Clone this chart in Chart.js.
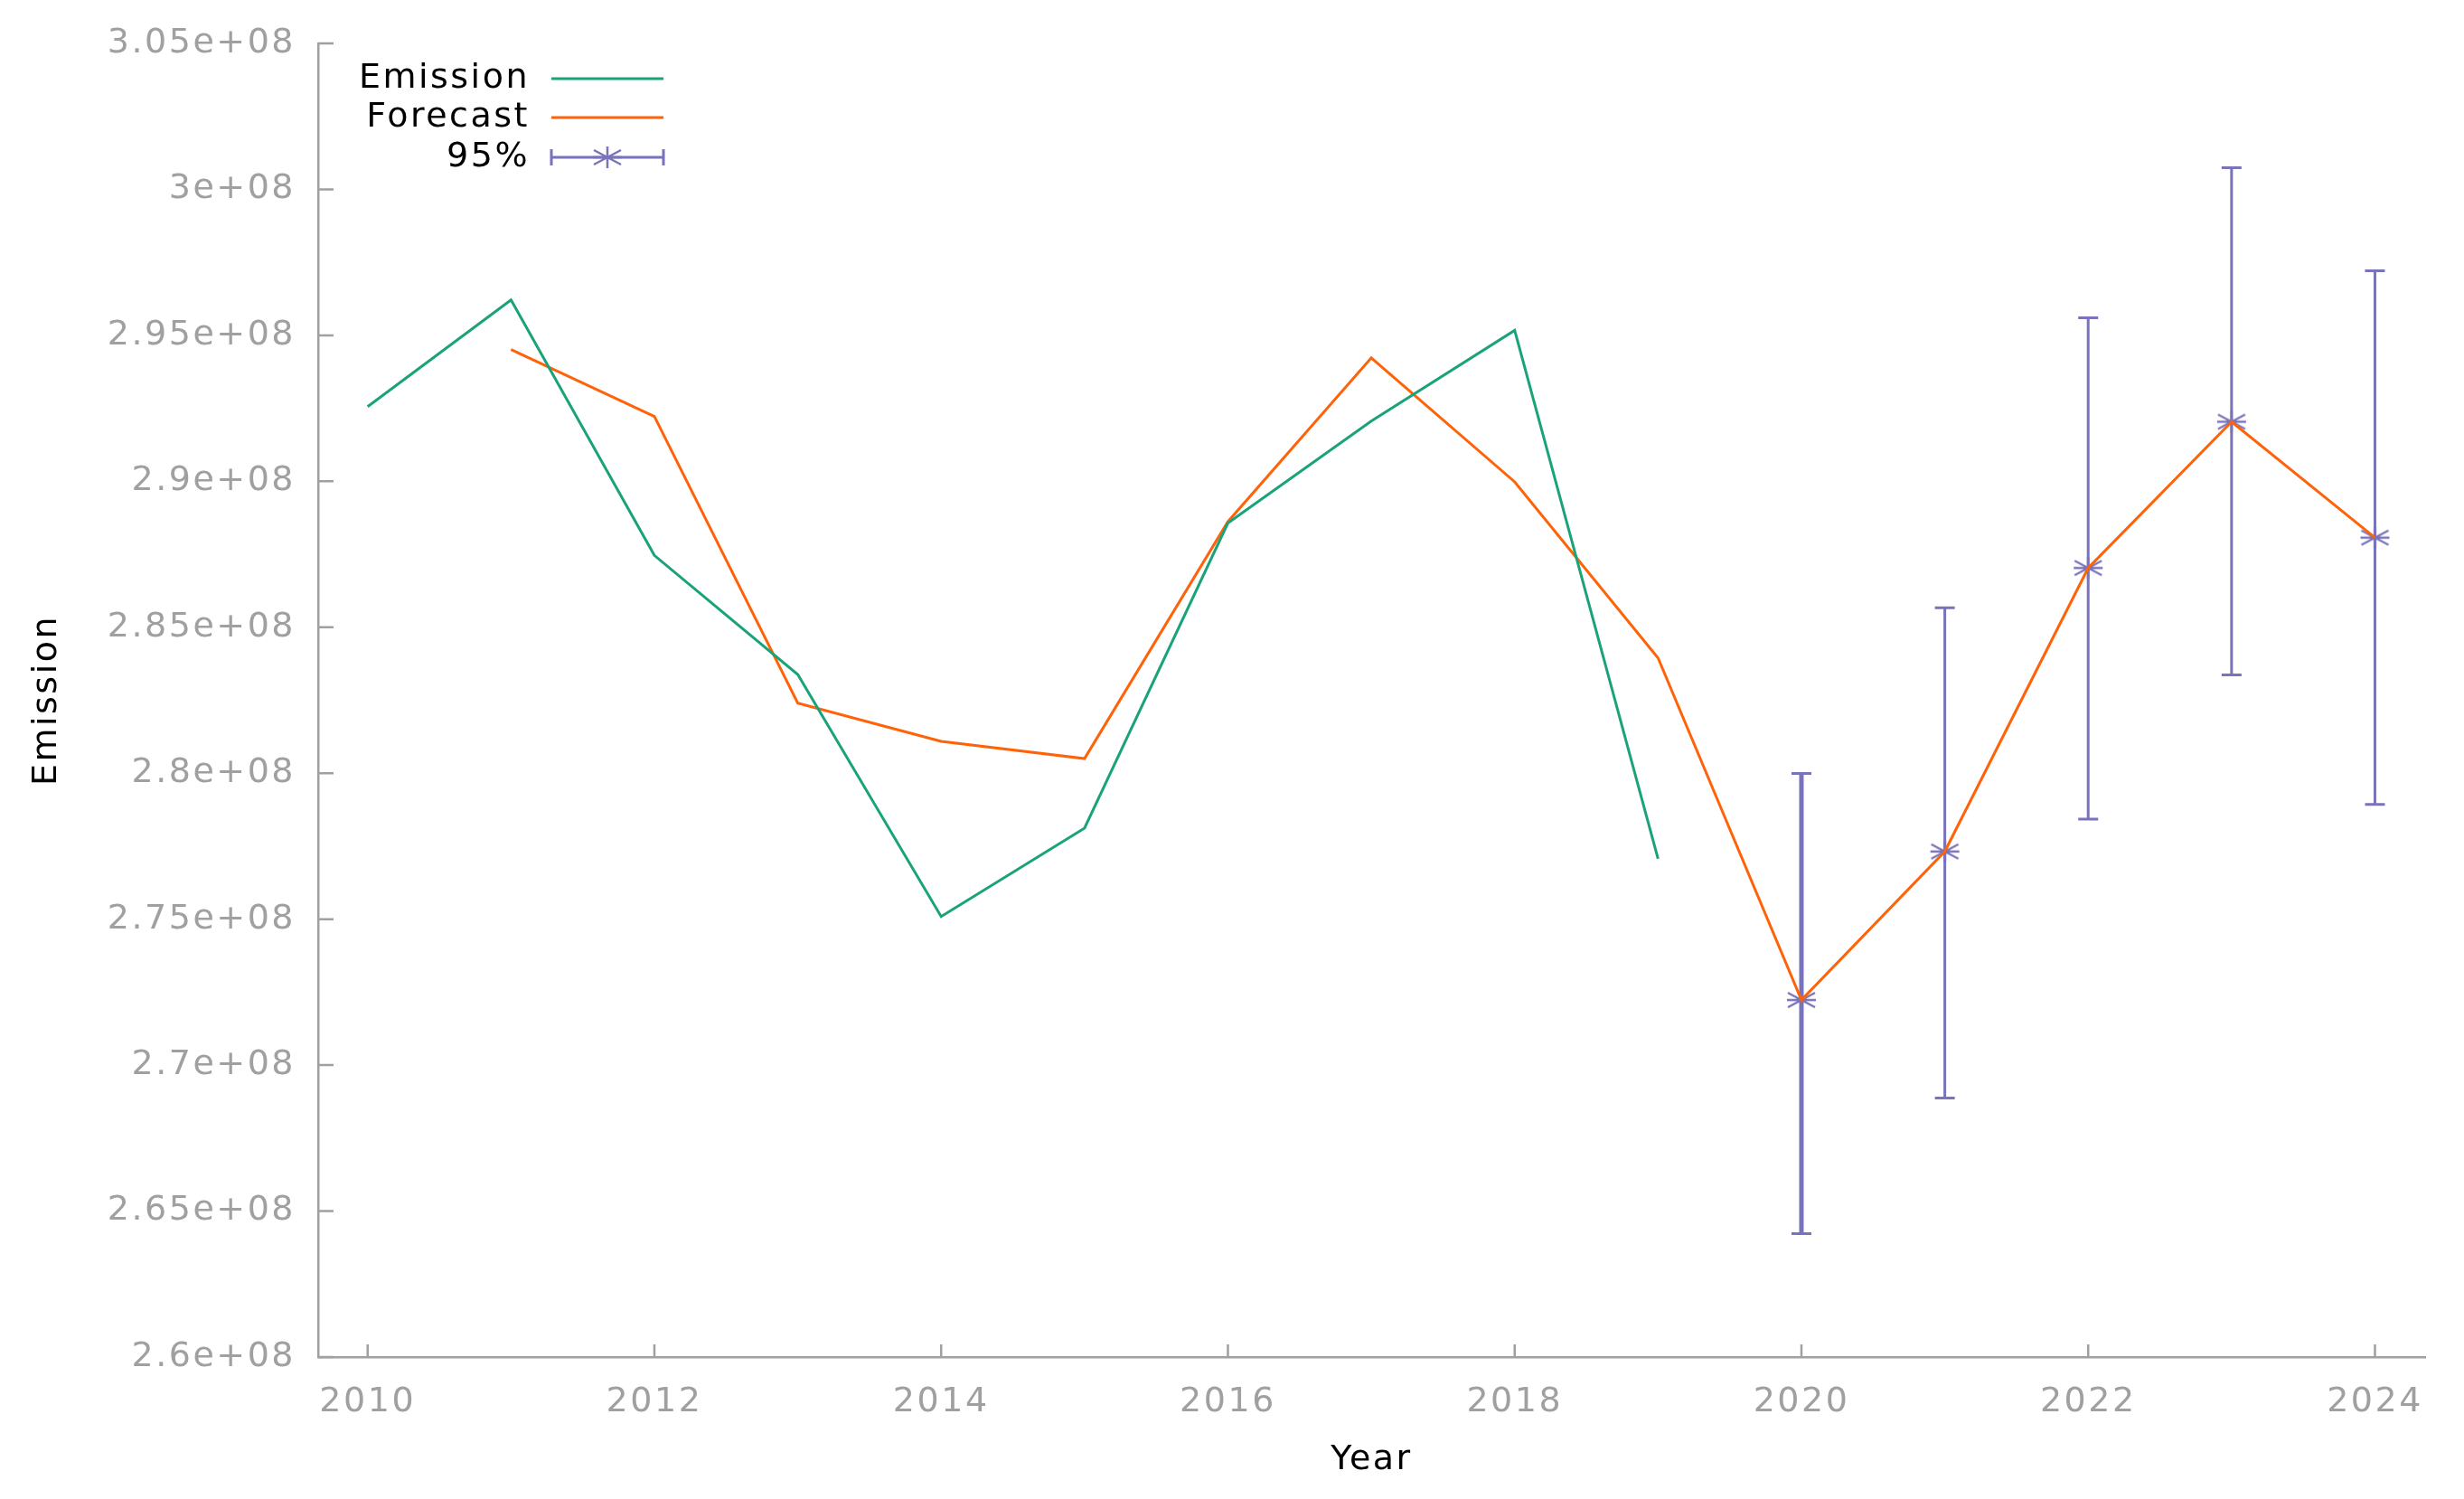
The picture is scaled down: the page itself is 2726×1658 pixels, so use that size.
<!DOCTYPE html>
<html>
<head>
<meta charset="utf-8">
<title>Emission forecast</title>
<script src="https://cdn.jsdelivr.net/npm/chart.js@4/dist/chart.umd.min.js"></script>
<style>
    html, body { margin: 0; padding: 0; background: #fff; }
    #wrap { width: 2726px; height: 1658px; }
</style>
</head>
<body>
<div id="wrap"><canvas id="chartEmission"></canvas></div>
<script>
// observed emission
const emissionYears = [2010, 2011, 2012, 2013, 2014, 2015, 2016, 2017, 2018, 2019];
const emission = [2.9256e8, 2.9621e8, 2.8746e8, 2.8338e8, 2.7509e8, 2.7812e8, 2.8857e8, 2.9206e8, 2.9517e8, 2.7707e8];

// fitted + forecast values
const forecastYears = [2011, 2012, 2013, 2014, 2015, 2016, 2017, 2018, 2019, 2020, 2021, 2022, 2023, 2024];
const forecast = [2.9451e8, 2.9222e8, 2.8240e8, 2.8109e8, 2.8050e8, 2.8862e8, 2.9423e8, 2.8998e8, 2.8395e8, 2.7223e8, 2.7732e8, 2.8703e8, 2.9204e8, 2.8807e8];

// 95% interval
const ciYears = [2020, 2021, 2022, 2023, 2024];
const ciLow = [2.6423e8, 2.6887e8, 2.7843e8, 2.8337e8, 2.7893e8];
const ciHigh = [2.7999e8, 2.8567e8, 2.9560e8, 3.0074e8, 2.9721e8];

const xTicks = [2010, 2012, 2014, 2016, 2018, 2020, 2022, 2024];
const yTicks = [2.6e8, 2.65e8, 2.7e8, 2.75e8, 2.8e8, 2.85e8, 2.9e8, 2.95e8, 3e8, 3.05e8];
const yTickLabels = ["2.6e+08", "2.65e+08", "2.7e+08", "2.75e+08", "2.8e+08", "2.85e+08", "2.9e+08", "2.95e+08", "3e+08", "3.05e+08"];

const seriesNames = ["Emission", "Forecast", "95%"];

const GREEN = "#1aa37a";
const ORANGE = "#ff6208";
const PURPLE = "#7873ba";
const AXIS = "#a0a0a0";
const FONT = "DejaVu Sans";

// the error bar at 2020 is drawn heavier in the original
const ciLineWidths = [5, 3, 3, 3, 3];

function makeStar(color) {
    const c = document.createElement("canvas");
    c.width = 36;
    c.height = 36;
    const g = c.getContext("2d");
    g.strokeStyle = color;
    g.lineWidth = 2.5;
    g.beginPath();
    g.moveTo(2, 18); g.lineTo(34, 18);
    g.moveTo(18, 6); g.lineTo(18, 30);
    g.moveTo(3, 10); g.lineTo(33, 26);
    g.moveTo(3, 26); g.lineTo(33, 10);
    g.stroke();
    return c;
}
const starImg = makeStar(PURPLE);

function drawStar(ctx, x, y) {
    ctx.drawImage(starImg, x - 18, y - 18);
}

// centre of each interval sits on the forecast line
const ciMid = ciYears.map(yr => forecast[forecastYears.indexOf(yr)]);

// gnuplot's raster font is wide, spread the letters a bit
const textSpacing = {
    id: "textSpacing",
    beforeDraw(chart) {
        chart.ctx.letterSpacing = "2.5px";
    }
};

const errorBars = {
    id: "errorBars",
    beforeDatasetsDraw(chart) {
        const { ctx, scales: { x, y } } = chart;
        ctx.save();
        ctx.strokeStyle = PURPLE;
        ciYears.forEach((yr, i) => {
            const px = x.getPixelForValue(yr);
            const pLo = y.getPixelForValue(ciLow[i]);
            const pHi = y.getPixelForValue(ciHigh[i]);
            ctx.lineWidth = ciLineWidths[i];
            ctx.beginPath();
            ctx.moveTo(px, pLo); ctx.lineTo(px, pHi);
            ctx.stroke();
            ctx.lineWidth = 3;
            ctx.beginPath();
            ctx.moveTo(px - 11, pLo); ctx.lineTo(px + 11, pLo);
            ctx.moveTo(px - 11, pHi); ctx.lineTo(px + 11, pHi);
            ctx.stroke();
        });
        ctx.restore();
    }
};

const innerTicks = {
    id: "innerTicks",
    afterDraw(chart) {
        const { ctx, chartArea, scales: { x, y } } = chart;
        ctx.save();
        ctx.strokeStyle = AXIS;
        ctx.lineWidth = 2.5;
        ctx.beginPath();
        y.ticks.forEach((t, i) => {
            const py = y.getPixelForTick(i);
            ctx.moveTo(chartArea.left, py);
            ctx.lineTo(chartArea.left + 17, py);
        });
        x.ticks.forEach((t, i) => {
            const px = x.getPixelForTick(i);
            ctx.moveTo(px, chartArea.bottom);
            ctx.lineTo(px, chartArea.bottom - 14);
        });
        ctx.stroke();
        ctx.restore();
    }
};

// gnuplot style key: text first, sample to the right
const keyBox = {
    id: "keyBox",
    afterDraw(chart) {
        const { ctx } = chart;
        const textRight = 586;
        const x0 = 610, x1 = 734;
        const rows = [87, 130, 174];
        ctx.save();
        ctx.font = "38px '" + FONT + "'";
        ctx.fillStyle = "#000";
        ctx.textAlign = "right";
        ctx.textBaseline = "middle";
        seriesNames.forEach((name, i) => ctx.fillText(name, textRight, rows[i]));

        ctx.lineWidth = 3;
        ctx.strokeStyle = GREEN;
        ctx.beginPath(); ctx.moveTo(x0, rows[0]); ctx.lineTo(x1, rows[0]); ctx.stroke();
        ctx.strokeStyle = ORANGE;
        ctx.beginPath(); ctx.moveTo(x0, rows[1]); ctx.lineTo(x1, rows[1]); ctx.stroke();
        ctx.strokeStyle = PURPLE;
        ctx.beginPath();
        ctx.moveTo(x0, rows[2]); ctx.lineTo(x1, rows[2]);
        ctx.moveTo(x0, rows[2] - 9); ctx.lineTo(x0, rows[2] + 9);
        ctx.moveTo(x1, rows[2] - 9); ctx.lineTo(x1, rows[2] + 9);
        ctx.stroke();
        drawStar(ctx, (x0 + x1) / 2, rows[2]);
        ctx.restore();
    }
};

new Chart(document.getElementById("chartEmission"), {
    type: "line",
    data: {
        datasets: [
            {
                label: seriesNames[0],
                data: emissionYears.map((yr, i) => ({ x: yr, y: emission[i] })),
                borderColor: GREEN,
                borderWidth: 3,
                pointRadius: 0,
                tension: 0
            },
            {
                label: seriesNames[1],
                data: forecastYears.map((yr, i) => ({ x: yr, y: forecast[i] })),
                borderColor: ORANGE,
                borderWidth: 3,
                pointRadius: 0,
                tension: 0
            },
            {
                label: seriesNames[2],
                data: ciYears.map((yr, i) => ({ x: yr, y: ciMid[i] })),
                showLine: false,
                pointStyle: starImg,
                pointRadius: 16,
                borderColor: PURPLE
            }
        ]
    },
    options: {
        responsive: true,
        maintainAspectRatio: false,
        animation: false,
        events: [],
        layout: { padding: { left: 0, top: 48, right: 43, bottom: 0 } },
        plugins: {
            legend: { display: false },
            tooltip: { enabled: false }
        },
        scales: {
            x: {
                type: "linear",
                min: 2009.655,
                max: 2024.35,
                afterBuildTicks: scale => { scale.ticks = xTicks.map(v => ({ value: v })); },
                afterFit: scale => { scale.height = 157; },
                grid: { display: false, drawTicks: false },
                border: { display: true, color: AXIS, width: 2.5 },
                ticks: {
                    color: AXIS,
                    font: { family: FONT, size: 38 },
                    padding: 27,
                    maxRotation: 0,
                    callback: value => String(value)
                },
                title: {
                    display: true,
                    text: "Year",
                    color: "#000",
                    font: { family: FONT, size: 38 },
                    padding: { top: 0, bottom: 20 }
                }
            },
            y: {
                min: 2.6e8,
                max: 3.05e8,
                afterBuildTicks: scale => { scale.ticks = yTicks.map(v => ({ value: v })); },
                afterFit: scale => { scale.width = 352; },
                grid: { display: false, drawTicks: false },
                border: { display: true, color: AXIS, width: 2.5 },
                ticks: {
                    color: AXIS,
                    font: { family: FONT, size: 38 },
                    padding: 25,
                    callback: (value, index) => yTickLabels[index]
                },
                title: {
                    display: true,
                    text: "Emission",
                    color: "#000",
                    font: { family: FONT, size: 38 },
                    padding: { top: 29, bottom: 0 }
                }
            }
        }
    },
    plugins: [textSpacing, errorBars, innerTicks, keyBox]
});
</script>
</body>
</html>
